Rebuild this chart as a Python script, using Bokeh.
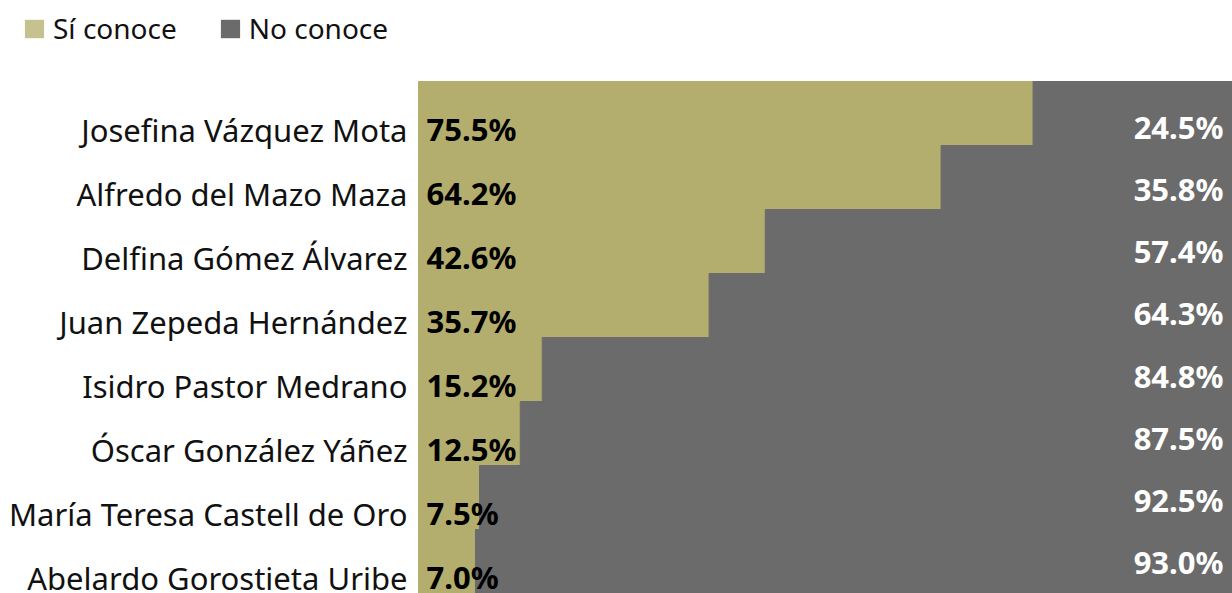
from bokeh.plotting import figure
from bokeh.models import ColumnDataSource, Range1d, LabelSet, Legend, LegendItem
from bokeh.core.properties import value
from bokeh.embed import file_html
from bokeh.resources import INLINE

names = ["Josefina Vázquez Mota", "Alfredo del Mazo Maza", "Delfina Gómez Álvarez",
         "Juan Zepeda Hernández", "Isidro Pastor Medrano", "Óscar González Yáñez",
         "María Teresa Castell de Oro", "Abelardo Gorostieta Uribe"]
si_conoce = [75.5, 64.2, 42.6, 35.7, 15.2, 12.5, 7.5, 7.0]
no_conoce = [24.5, 35.8, 57.4, 64.3, 84.8, 87.5, 92.5, 93.0]
series_labels = ["Sí conoce", "No conoce"]

GOLD = "#B3AD6E"
GOLD_LEGEND = "#C6C28F"
GREY = "#6B6B6B"
FONT_NAME = "'Noto Sans'"
FONT = value(FONT_NAME)

W, H = 1232, 593
LEFT_PX, TOP_PX = 418, 81          # where the bar area starts on the page
n = len(names)
px_x = (W - LEFT_PX) / 100.0
px_y = (H - TOP_PX) / n

pos = [i + 0.5 for i in range(n)]
src = ColumnDataSource(dict(
    y=pos, name=names, si=si_conoce, no=no_conoce,
    total=[a + b for a, b in zip(si_conoce, no_conoce)],
    zero=[0] * n,
    si_txt=[f"{v:.1f}%" for v in si_conoce],
    no_txt=[f"{v:.1f}%" for v in no_conoce],
))

p = figure(width=W, height=H, output_backend="svg", toolbar_location=None,
           x_range=Range1d(-LEFT_PX / px_x, 100), y_range=Range1d(n, -TOP_PX / px_y),
           min_border=0, x_axis_location=None, y_axis_location=None)
p.outline_line_color = None
p.xgrid.visible = False
p.ygrid.visible = False
p.background_fill_color = "white"
p.border_fill_color = "white"

# right-hand labels sit on a slightly tighter spacing than the bars
lbl_px = 62.14
lbl_top = 0.5 - 128 / lbl_px
p.extra_y_ranges = {"lbl": Range1d(start=lbl_top + H / lbl_px, end=lbl_top)}

p.hbar(y="y", left="zero", right="si", height=1.0, source=src,
       fill_color=GOLD, line_color=GOLD, line_width=1)
p.hbar(y="y", left="si", right="total", height=1.0, source=src,
       fill_color=GREY, line_color=GREY, line_width=1)

# zero-size renderers used only for the legend swatches
r_si = p.hbar(y="y", left="zero", right="zero", height=0, source=src,
              fill_color=GOLD_LEGEND, line_color=None)
r_no = p.hbar(y="y", left="zero", right="zero", height=0, source=src,
              fill_color=GREY, line_color=None)

legend = Legend(items=[LegendItem(label=series_labels[0], renderers=[r_si], index=0),
                       LegendItem(label=series_labels[1], renderers=[r_no], index=0)],
                orientation="horizontal", location=(22, H - 16 - 23 - 8),
                glyph_width=24, glyph_height=23, label_standoff=7, spacing=41,
                padding=0, margin=0, border_line_color=None, background_fill_alpha=0,
                label_text_font=FONT_NAME, label_text_font_size="28px",
                label_text_color="#111111", label_text_line_height=0.8,
                label_height=23, label_text_baseline="middle")
p.add_layout(legend, "center")

names_ls = LabelSet(x="zero", y="y", text="name", source=src, x_offset=-11, y_offset=-16,
                    text_align="right", text_baseline="middle", text_font=FONT,
                    text_font_size="31px", text_color="#111111")
si_ls = LabelSet(x="zero", y="y", text="si_txt", source=src, x_offset=8, y_offset=-15.5,
                 text_align="left", text_baseline="middle", text_font=FONT,
                 text_font_size="31px", text_font_style="bold", text_color="#000000")
no_ls = LabelSet(x="total", y="y", text="no_txt", source=src, x_offset=-9, y_offset=1.5,
                 y_range_name="lbl",
                 text_align="right", text_baseline="middle", text_font=FONT,
                 text_font_size="31px", text_font_style="bold", text_color="#FFFFFF")
p.add_layout(names_ls)
p.add_layout(si_ls)
p.add_layout(no_ls)

open("out.html", "w").write(file_html(p, INLINE))
